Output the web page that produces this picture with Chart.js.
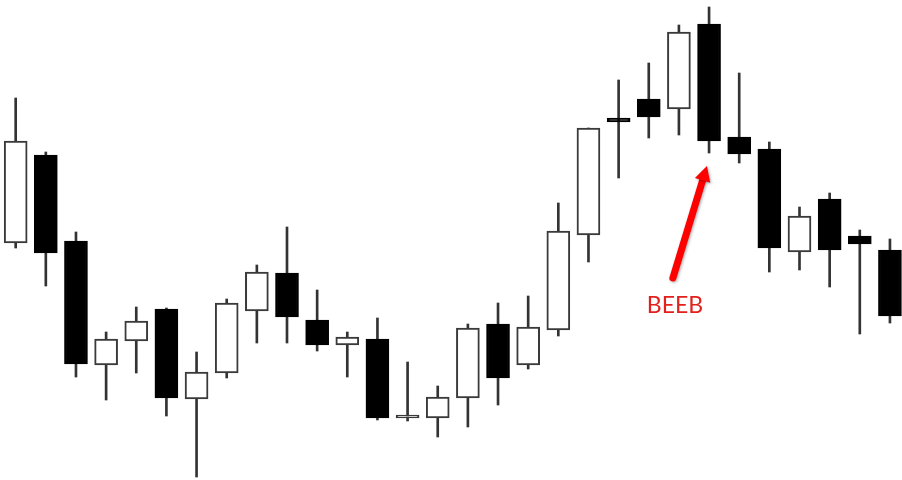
<!DOCTYPE html>
<html>
<head>
<meta charset="utf-8">
<script src="https://cdn.jsdelivr.net/npm/chart.js@4/dist/chart.umd.min.js"></script>
<style>
  html, body { margin: 0; padding: 0; background: #fff; }
  #wrap { width: 902px; height: 480px; }
</style>
</head>
<body>
<div id="wrap"><canvas id="chart1"></canvas></div>
<script>
// price values (no axis shown, arbitrary units)
const opens  = [237, 325, 239, 115, 139, 171, 81, 107, 169, 207, 160, 135, 141, 62, 62, 82, 156, 115, 150, 245, 362, 381, 371, 456, 343, 331, 228, 281, 244, 230];
const highs  = [382, 328, 248, 148, 173, 172, 128, 181, 215, 253, 190, 148, 162, 118, 94, 156, 177, 184, 277, 352, 400, 417, 455, 473, 407, 338, 273, 287, 250, 241];
const lows   = [232, 194, 103, 80, 107, 64, 3, 102, 137, 137, 129, 103, 60, 59, 43, 53, 75, 111, 144, 218, 302, 342, 345, 327, 317, 208, 210, 193, 146, 157];
const closes = [339, 227, 116, 141, 159, 82, 108, 177, 208, 163, 135, 143, 62, 65, 83, 152, 102, 153, 249, 352, 358, 363, 448, 339, 326, 232, 264, 230, 236, 164];

const labelText = "BEEB";
const labelCandle = 23; // the candle the arrow points at

const ctx = document.getElementById("chart1").getContext("2d");

const bodies = opens.map((o, i) => ({ x: i, y: [o, closes[i]] }));
const wicks = highs.map((h, i) => ({ x: i, y: [lows[i], h] }));
const isBull = opens.map((o, i) => closes[i] >= o);

// red arrow + text under the BEEB candle
const arrowPlugin = {
  id: "arrowPlugin",
  afterDatasetsDraw(chart) {
    const c = chart.ctx;
    const xs = chart.scales.x;
    const ys = chart.scales.y;
    const tipX = xs.getPixelForValue(labelCandle - 0.07);
    const tipY = ys.getPixelForValue(lows[labelCandle] - 13);
    const tailX = xs.getPixelForValue(labelCandle - 1.2);
    const tailY = ys.getPixelForValue(lows[labelCandle] - 125);
    const ang = Math.atan2(tipY - tailY, tipX - tailX);
    const headLen = 15, headW = 8;
    const baseX = tipX - headLen * Math.cos(ang);
    const baseY = tipY - headLen * Math.sin(ang);

    c.save();
    c.shadowColor = "rgba(0,0,0,0.35)";
    c.shadowBlur = 3;
    c.shadowOffsetX = 1;
    c.shadowOffsetY = 1;
    c.strokeStyle = "#ff0000";
    c.fillStyle = "#ff0000";
    c.lineWidth = 7;
    c.lineCap = "round";
    c.beginPath();
    c.moveTo(tailX, tailY);
    c.lineTo(baseX + 2 * Math.cos(ang), baseY + 2 * Math.sin(ang));
    c.stroke();
    c.beginPath();
    c.moveTo(tipX, tipY);
    c.lineTo(baseX + headW * Math.sin(ang), baseY - headW * Math.cos(ang));
    c.lineTo(baseX - headW * Math.sin(ang), baseY + headW * Math.cos(ang));
    c.closePath();
    c.fill();
    c.restore();

    c.save();
    c.fillStyle = "#e3201b";
    c.font = "23px Lato, 'Open Sans', sans-serif";
    c.textAlign = "center";
    c.textBaseline = "alphabetic";
    c.fillText(labelText, xs.getPixelForValue(labelCandle - 1.13), ys.getPixelForValue(lows[labelCandle] - 160));
    c.restore();
  },
};

const candleChart = new Chart(ctx, {
  type: "bar",
  data: {
    datasets: [
      {
        label: "body",
        data: bodies,
        backgroundColor: isBull.map((b) => (b ? "#ffffff" : "#000000")),
        borderColor: isBull.map((b) => (b ? "#3a3a3a" : "#000000")),
        borderWidth: 2,
        borderSkipped: false,
        barThickness: 23,
        grouped: false,
        order: 1,
      },
      {
        label: "wick",
        data: wicks,
        backgroundColor: "#333333",
        borderWidth: 0,
        barThickness: 2,
        grouped: false,
        order: 2,
      },
    ],
  },
  plugins: [arrowPlugin],
  options: {
    responsive: true,
    maintainAspectRatio: false,
    animation: false,
    layout: { padding: 0 },
    plugins: {
      legend: { display: false },
      tooltip: { enabled: false },
    },
    scales: {
      x: { type: "linear", min: -0.52, max: 29.4, offset: false, display: false },
      y: { min: 0, max: 480, display: false },
    },
  },
});
</script>
</body>
</html>
